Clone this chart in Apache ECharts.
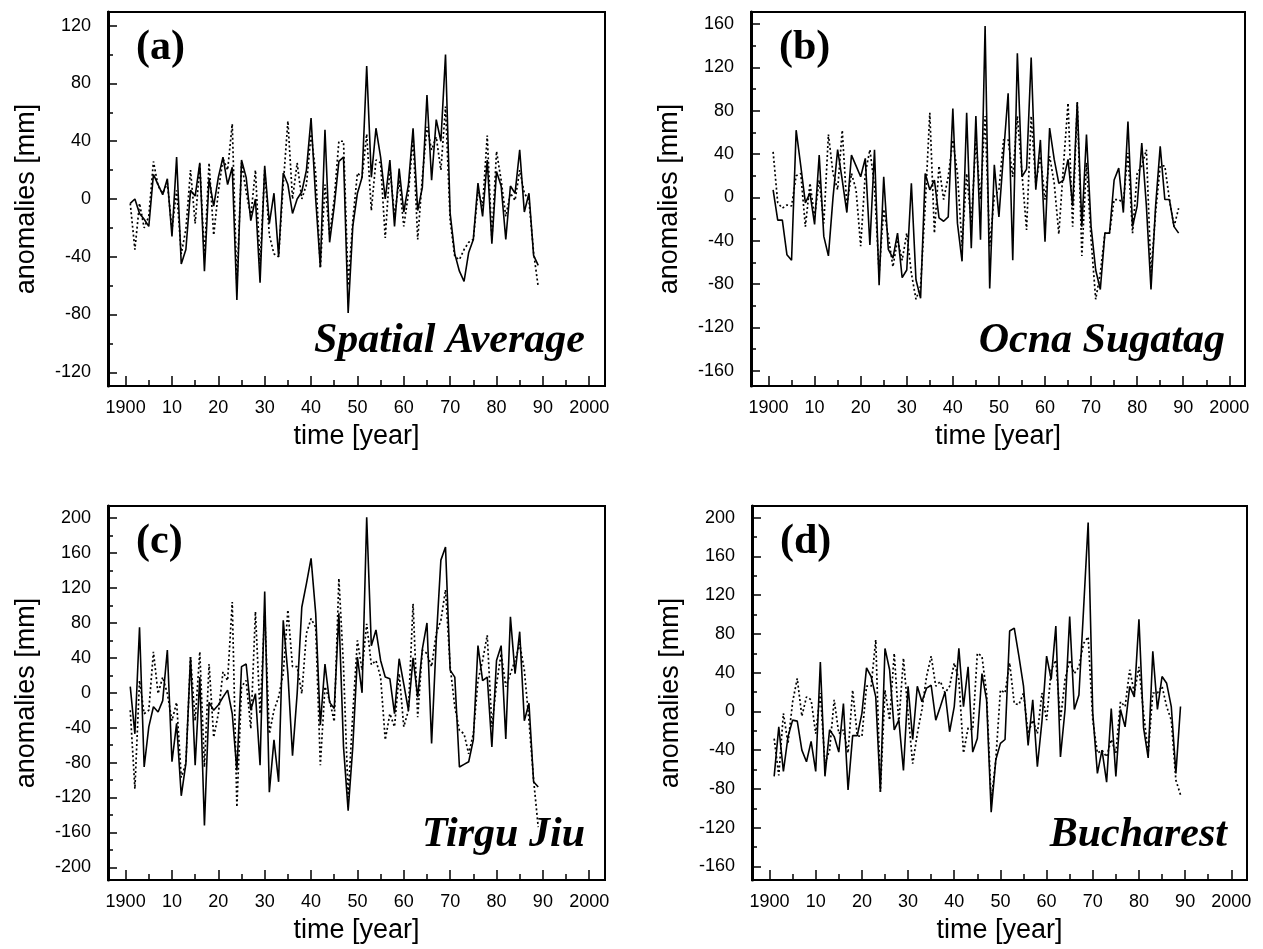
<!DOCTYPE html>
<html>
<head>
<meta charset="utf-8">
<script src="https://cdn.jsdelivr.net/npm/echarts@6/dist/echarts.min.js"></script>
<style>
  html, body { margin: 0; padding: 0; background: #fff; }
  #chart { width: 1263px; height: 949px; }
</style>
</head>
<body>
<div id="chart"></div>
<script>
// Annual precipitation anomalies [mm], 1901-1989: observed (solid) and reconstructed (dotted)
const firstYear = 1901;
const yearTicks = [1900, 1910, 1920, 1930, 1940, 1950, 1960, 1970, 1980, 1990, 2000];
const yearMinorTicks = [1905, 1915, 1925, 1935, 1945, 1955, 1965, 1975, 1985, 1995];

const spatialSolid = [
  -3, 0, -10, -14, -19, 17, 10, 3, 14, -26,
  29, -45, -35, 6, 2, 25, -50, 14, -5, 15,
  29, 10, 22, -70, 27, 15, -15, 0, -58, 23,
  -17, 4, -40, 18, 10, -10, 0, 5, 20, 56,
  0, -47, 48, -30, -5, 26, 29, -79, -19, 4,
  15, 92, 15, 49, 29, 0, 27, -19, 21, -9,
  10, 49, -8, 8, 72, 13, 55, 40, 100, -10,
  -38, -50, -57, -37, -28, 11, -12, 27, -31, 19,
  9, -28, 9, 4, 34, -9, 4, -39, -46
];
const spatialDotted = [
  -3, -35, -3, -20, -12, 26, 9, 4, 11, -21,
  6, -38, -21, 20, -17, 24, -40, 25, -25, 5,
  28, 20, 52, -60, 25, 5, -12, 20, -45, 20,
  -25, -38, -40, 10, 54, 0, 25, 0, 10, 45,
  18, -48, 10, -25, 0, 40, 40, -60, -15, 18,
  15, 45, -8, 27, 25, -27, 22, -12, 13, -19,
  4, 43, -28, 15, 50, 34, 43, 20, 64, -15,
  -40, -42, -35, -30, -28, 5, -5, 44, -28, 33,
  13, -12, 4, -1, 20, 4, -1, -37, -61
];

const ocnaSolid = [
  7, -21, -21, -53, -58, 62, 29, -5, 4, -25,
  39, -36, -54, 0, 44, 16, -14, 39, 29, 19,
  36, -44, 44, -81, 19, -48, -56, -33, -74, -67,
  13, -76, -93, 22, 7, 16, -19, -22, -18, 82,
  -24, -59, 78, -47, 75, -39, 158, -84, 30, -18,
  40, 96, -58, 133, 19, 26, 129, 7, 53, -41,
  64, 35, 13, 16, 35, -8, 87, -27, 58, -27,
  -67, -85, -33, -33, 16, 27, -14, 70, -27, -8,
  50, -8, -85, -8, 47, -2, -2, -27, -33
];
const ocnaDotted = [
  42, -5, -10, -7, -8, 20, 22, -27, 13, -18,
  16, -24, 58, 22, 7, 62, -8, 22, 7, -45,
  22, 44, 10, -70, -11, -36, -64, -39, -58, -33,
  -70, -94, -82, -8, 78, -33, 29, -2, 19, 53,
  22, -45, 22, -24, 53, -2, 75, -45, 1, 7,
  53, 53, 19, 75, 22, -30, 75, 13, 38, -2,
  38, 13, -34, 29, 87, -27, 88, -54, 32, -39,
  -94, -70, -33, -33, -2, -2, -5, 41, -33, 22,
  29, 44, -70, -14, 29, 29, -2, -27, -10
];

const tirguSolid = [
  7, -47, 75, -85, -39, -16, -22, -9, 49, -79,
  -35, -118, -81, 41, -83, 18, -152, -11, -20, -14,
  -5, 3, -24, -89, 30, 33, -20, -1, -83, 116,
  -114, -54, -102, 83, 22, -72, -1, 98, 125, 154,
  91, -37, 33, -11, -18, 91, -62, -135, -62, 41,
  0, 201, 54, 72, 37, 18, 16, -24, 39, 10,
  -20, 40, -5, 50, 80, -58, 60, 152, 167, 26,
  18, -85, -82, -79, -54, 54, 14, 18, -62, 37,
  54, -53, 87, 22, 70, -32, -12, -102, -108
];
const tirguDotted = [
  -20, -110, 14, -24, -20, 47, -1, 18, -1, -32,
  -11, -97, -81, 41, -32, 47, -85, 33, -51, -24,
  24, 14, 104, -131, 7, 14, -41, 93, -24, 91,
  -47, -20, -5, 22, 95, 30, 30, -1, 68, 85,
  75, -83, 7, -9, -33, 131, 30, -120, -24, 60,
  26, 79, 32, 37, 18, -54, -24, -39, 22, -39,
  -20, 102, -28, 49, 45, 30, 68, 83, 118, 30,
  -16, -43, -47, -70, -47, 14, 37, 66, -39, 10,
  45, 7, 22, 37, 56, 26, -32, -100, -154
];

const bucharestSolid = [
  -67, -16, -62, -26, -9, -10, -40, -52, -31, -62,
  51, -67, -19, -26, -42, 8, -81, -25, -25, -2,
  45, 36, 15, -83, 65, 43, -19, -9, -61, 26,
  -29, 26, 10, 24, 27, -9, 5, 20, -21, 5,
  65, 5, 46, -42, -28, 39, 12, -104, -50, -33,
  -29, 83, 86, 57, 26, -35, 12, -57, -10, 57,
  33, 88, -47, 2, 98, 2, 17, 105, 195, -2,
  -64, -40, -73, 3, -67, 2, -16, 26, 15, 95,
  -17, -48, 62, 2, 36, 29, 5, -64, 5
];
const bucharestDotted = [
  -28, -66, -2, -33, 10, 34, -5, 15, 12, -23,
  19, -54, -40, 12, -23, -19, -43, 22, -25, -26,
  26, 26, 74, -83, 22, -9, 60, -12, 55, -2,
  -54, -23, 2, 36, 57, 26, 31, 19, 26, 50,
  33, -43, -17, -19, 60, 57, 19, -92, -50, 22,
  19, 50, 8, 7, 19, -23, -9, -23, 19, -9,
  43, 53, -9, 33, 53, 39, 46, 70, 77, -9,
  -43, -40, -47, -29, -43, 10, 5, 43, 19, 46,
  -2, -43, 19, 19, 26, 5, -9, -71, -86
];

const tagLabels = ['(a)', '(b)', '(c)', '(d)'];
const stationNames = ['Spatial Average', 'Ocna Sugatag', 'Tirgu Jiu', 'Bucharest'];
const yTicksA = [-120, -80, -40, 0, 40, 80, 120];
const yMinorA = [-100, -60, -20, 20, 60, 100];
const yTicksB = [-160, -120, -80, -40, 0, 40, 80, 120, 160];
const yMinorB = [-140, -100, -60, -20, 20, 60, 100, 140];
const yTicksC = [-200, -160, -120, -80, -40, 0, 40, 80, 120, 160, 200];
const yMinorC = [-180, -140, -100, -60, -20, 20, 60, 100, 140, 180];
const yTicksD = [-160, -120, -80, -40, 0, 40, 80, 120, 160, 200];
const yMinorD = [-140, -100, -60, -20, 20, 60, 100, 140, 180];

// layout of the four panels
const panels = [
  { solid: spatialSolid, dotted: spatialDotted, ticks: yTicksA, minor: yMinorA, yMin: -129.5, yMax: 129.5,
    box: { left: 108, top: 12, width: 497, height: 374 } },
  { solid: ocnaSolid, dotted: ocnaDotted, ticks: yTicksB, minor: yMinorB, yMin: -174, yMax: 171,
    box: { left: 751, top: 12, width: 494, height: 374 } },
  { solid: tirguSolid, dotted: tirguDotted, ticks: yTicksC, minor: yMinorC, yMin: -214.5, yMax: 214,
    box: { left: 108, top: 506, width: 497, height: 374 } },
  { solid: bucharestSolid, dotted: bucharestDotted, ticks: yTicksD, minor: yMinorD, yMin: -174, yMax: 212,
    box: { left: 752, top: 506, width: 495, height: 374 } }
];

const X_MIN = 1896.2, X_MAX = 2003.4;
const SANS = '"Liberation Sans", Arial, Helvetica, sans-serif';
const SERIF = '"Liberation Serif", "Times New Roman", serif';

const grids = [], xAxes = [], yAxes = [], series = [], graphics = [];

panels.forEach((p, i) => {
  grids.push(Object.assign({ show: true, borderColor: '#000', borderWidth: 2, backgroundColor: 'transparent' }, p.box));

  xAxes.push({
    type: 'value', gridIndex: i, min: X_MIN, max: X_MAX, position: 'bottom',
    axisLine: { show: true, onZero: false, lineStyle: { color: '#000', width: 2 } },
    axisTick: { show: true, inside: true, length: 10, customValues: yearTicks, lineStyle: { color: '#000', width: 1.5 } },
    axisLabel: {
      customValues: yearTicks, color: '#000', fontSize: 18, fontFamily: SANS, margin: 13,
      formatter: v => (v === 1900 || v === 2000) ? String(v) : String(v - 1900)
    },
    splitLine: { show: false },
    name: 'time [year]', nameLocation: 'middle', nameGap: 37,
    nameTextStyle: { color: '#000', fontSize: 27, fontFamily: SANS }
  });
  // minor (5-year) ticks along the bottom edge
  xAxes.push({
    type: 'value', gridIndex: i, min: X_MIN, max: X_MAX, position: 'bottom', offset: 0,
    axisLine: { show: false, onZero: false },
    axisTick: { show: true, inside: true, length: 6, customValues: yearMinorTicks, lineStyle: { color: '#000', width: 1.5 } },
    axisLabel: { show: false }, splitLine: { show: false }
  });

  yAxes.push({
    type: 'value', gridIndex: i, min: p.yMin, max: p.yMax, position: 'left',
    axisLine: { show: true, onZero: false, lineStyle: { color: '#000', width: 3 } },
    axisTick: { show: true, inside: true, length: 9, customValues: p.ticks, lineStyle: { color: '#000', width: 1.5 } },
    axisLabel: { customValues: p.ticks, color: '#000', fontSize: 18, fontFamily: SANS, margin: 17 },
    splitLine: { show: false },
    name: 'anomalies [mm]', nameLocation: 'middle', nameGap: 68, nameRotate: 90,
    nameTextStyle: { color: '#000', fontSize: 27, fontFamily: SANS }
  });
  // minor (20 mm) ticks along the left edge
  yAxes.push({
    type: 'value', gridIndex: i, min: p.yMin, max: p.yMax, position: 'left', offset: 0,
    axisLine: { show: false, onZero: false },
    axisTick: { show: true, inside: true, length: 5, customValues: p.minor, lineStyle: { color: '#000', width: 1.5 } },
    axisLabel: { show: false }, splitLine: { show: false }
  });

  const pts = vals => vals.map((v, k) => [firstYear + k, v]);
  series.push({
    type: 'line', xAxisIndex: 2 * i, yAxisIndex: 2 * i, data: pts(p.dotted),
    symbol: 'none', silent: true,
    lineStyle: { color: '#000', width: 1.7, type: [2, 2.5] }
  });
  series.push({
    type: 'line', xAxisIndex: 2 * i, yAxisIndex: 2 * i, data: pts(p.solid),
    symbol: 'none', silent: true,
    lineStyle: { color: '#000', width: 1.6 }
  });

  const b = p.box;
  graphics.push({
    type: 'text', x: b.left + 28, y: b.top + 36, silent: true,
    style: { text: tagLabels[i], fill: '#000', fontFamily: SERIF, fontWeight: 'bold', fontSize: 42,
             textAlign: 'left', textVerticalAlign: 'middle' }
  });
  graphics.push({
    type: 'text', x: b.left + b.width - 20, y: b.top + b.height - 45, silent: true,
    style: { text: stationNames[i], fill: '#000', fontFamily: SERIF, fontWeight: 'bold', fontStyle: 'italic',
             fontSize: 42, textAlign: 'right', textVerticalAlign: 'middle' }
  });
});

const chart = echarts.init(document.getElementById('chart'), null, { renderer: 'canvas' });
chart.setOption({
  animation: false,
  backgroundColor: '#fff',
  grid: grids,
  xAxis: xAxes,
  yAxis: yAxes,
  series: series,
  graphic: graphics
});
</script>
</body>
</html>
